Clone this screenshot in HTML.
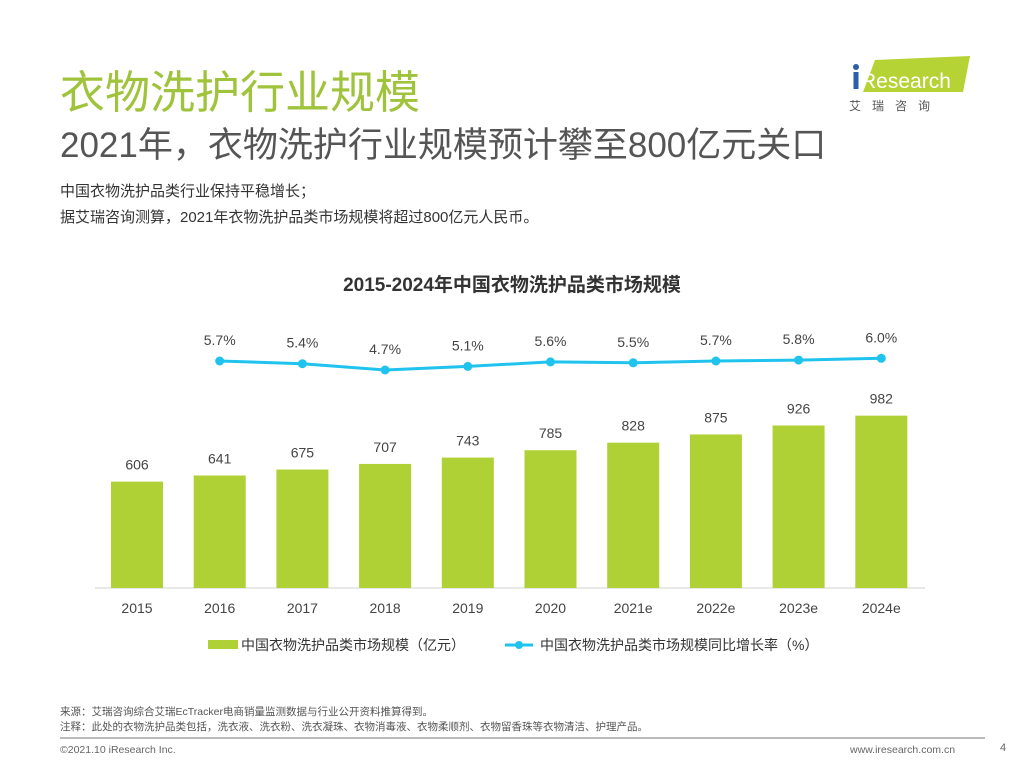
<!DOCTYPE html>
<html><head><meta charset="utf-8"><style>
body{margin:0;width:1024px;height:768px;background:#fff;font-family:"Liberation Sans","Noto Sans CJK SC",sans-serif;position:relative;overflow:hidden}
.a{position:absolute;white-space:nowrap}
</style></head><body>
<div class="a" style="left:60px;top:56px;font-size:45px;color:#9fc33a">衣物洗护行业规模</div>
<div class="a" style="left:60px;top:117px;font-size:35px;color:#555">2021年，衣物洗护行业规模预计攀至800亿元关口</div>
<div class="a" style="left:60px;top:180px;font-size:15px;color:#333">中国衣物洗护品类行业保持平稳增长；</div>
<div class="a" style="left:60px;top:206px;font-size:15px;color:#333">据艾瑞咨询测算，2021年衣物洗护品类市场规模将超过800亿元人民币。</div>
<div class="a" style="left:845px;top:52px;width:130px;height:60px">
<svg width="130" height="60"><polygon points="30,8 125,4 118,40 18,40" fill="#b5d334"/><circle cx="11" cy="15" r="3" fill="#2b5da8"/><rect x="8.5" y="20" width="5" height="17" fill="#2b5da8"/>
<text x="16" y="36" font-size="21" fill="#fff" font-family="Liberation Sans">Research</text>
<text x="4" y="58" font-size="12" fill="#555" letter-spacing="11">艾瑞咨询</text></svg></div>
<svg class="a" style="left:0;top:0" width="1024" height="768">
<text x="512" y="291" text-anchor="middle" font-size="19" font-weight="bold" fill="#333">2015-2024年中国衣物洗护品类市场规模</text>
<line x1="95" y1="588" x2="925" y2="588" stroke="#d0d0d0"/>
<g id="g"></g>
<rect x="208" y="640" width="30" height="9" fill="#afd135"/>
<text x="241" y="650" font-size="14" fill="#333">中国衣物洗护品类市场规模（亿元）</text>
<line x1="505" y1="645" x2="533" y2="645" stroke="#1fc3ee" stroke-width="3"/>
<circle cx="519" cy="645" r="4" fill="#1fc3ee"/>
<text x="540" y="650" font-size="14" fill="#333">中国衣物洗护品类市场规模同比增长率（%）</text>
<line x1="60" y1="738" x2="985" y2="738" stroke="#bbb" stroke-width="2"/>
</svg>
<div class="a" style="left:60px;top:704px;font-size:10.5px;color:#555">来源：艾瑞咨询综合艾瑞EcTracker电商销量监测数据与行业公开资料推算得到。</div>
<div class="a" style="left:60px;top:719px;font-size:10.5px;color:#555">注释：此处的衣物洗护品类包括，洗衣液、洗衣粉、洗衣凝珠、衣物消毒液、衣物柔顺剂、衣物留香珠等衣物清洁、护理产品。</div>
<div class="a" style="left:60px;top:744px;font-size:10.5px;color:#666">©2021.10 iResearch Inc.</div>
<div class="a" style="left:850px;top:744px;font-size:10.5px;color:#666">www.iresearch.com.cn</div>
<div class="a" style="left:1000px;top:742px;font-size:11px;color:#666">4</div>
<script>
const categories=["2015","2016","2017","2018","2019","2020","2021e","2022e","2023e","2024e"];
const sizes=[606,641,675,707,743,785,828,875,926,982];
const growth=[5.7,5.4,4.7,5.1,5.6,5.5,5.7,5.8,6.0];
const NS="http://www.w3.org/2000/svg",g=document.getElementById('g');
const xc=i=>137+i*82.7, yb=v=>588-v*0.1755, yl=v=>361-(v-5.7)*9;
function mk(t,a,txt){const e=document.createElementNS(NS,t);for(const k in a)e.setAttribute(k,a[k]);if(txt!=null)e.textContent=txt;g.appendChild(e);return e;}
categories.forEach((c,i)=>{
 const b=mk('rect',{x:xc(i)-26,y:yb(sizes[i]),width:52,height:588-yb(sizes[i]),fill:'#afd135'});
 
 
 const l=mk('text',{x:xc(i),y:yb(sizes[i])-12,'text-anchor':'middle','font-size':14,fill:'#444'},sizes[i]);
 
 
 const t=mk('text',{x:xc(i),y:613,'text-anchor':'middle','font-size':14,fill:'#444'},c);
 
 
});
const pts=growth.map((v,j)=>[xc(j+1),yl(v)]);
const pl=mk('polyline',{points:pts.map(p=>p.join(',')).join(' '),fill:'none',stroke:'#1fc3ee','stroke-width':3});


growth.forEach((v,j)=>{
 const c=mk('circle',{cx:pts[j][0],cy:pts[j][1],r:4.5,fill:'#1fc3ee'});
 
 
 const t=mk('text',{x:pts[j][0],y:pts[j][1]-16,'text-anchor':'middle','font-size':14,fill:'#444'},v.toFixed(1)+'%');
 
 
});
</script>
</body></html>
